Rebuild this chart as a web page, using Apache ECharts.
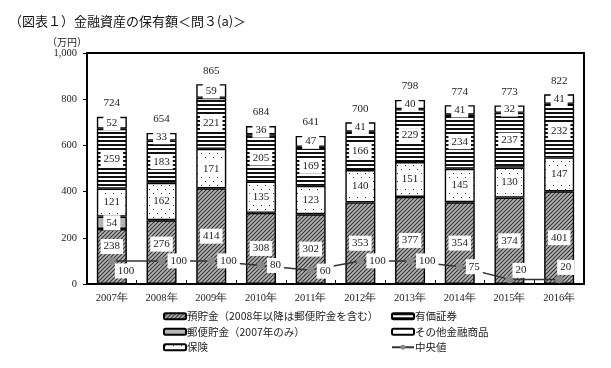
<!DOCTYPE html>
<html><head><meta charset="utf-8">
<script src="https://cdn.jsdelivr.net/npm/echarts@6/dist/echarts.min.js"></script>
<style>html,body{margin:0;padding:0;background:#fff}#c{width:611px;height:368px}</style>
</head><body><div id="c"></div>
<script>
const categories = ['2007年','2008年','2009年','2010年','2011年','2012年','2013年','2014年','2015年','2016年'];
const deposits   = [238, 276, 414, 308, 302, 353, 377, 354, 374, 401];
const postal     = [54, 0, 0, 0, 0, 0, 0, 0, 0, 0];
const insurance  = [121, 162, 171, 135, 123, 140, 151, 145, 130, 147];
const securities = [259, 183, 221, 205, 169, 166, 229, 234, 237, 232];
const others     = [52, 33, 59, 36, 47, 41, 40, 41, 32, 41];
const totals     = [724, 654, 865, 684, 641, 700, 798, 774, 773, 822];
const median     = [100, 100, 100, 80, 60, 100, 100, 75, 20, 20];
const yTicks     = [0, 200, 400, 600, 800, 1000];

// label offsets (styling only)
const medianLabelOffsets = [[-3,10],[0,0],[0,0],[0,0],[0,1],[0,0],[0,0],[0,0],[-3,-9],[-8,-12]];
const depositLabelOffsets = [[0,-10],[0,-8],[0,0],[0,0],[0,0],[0,0],[0,0],[0,0],[0,0],[0,0]];

function pattern(kind){
  const c = document.createElement('canvas');
  const ctx = c.getContext('2d');
  if(kind==='hatch'){
    c.width=4;c.height=4;
    ctx.fillStyle='#b4b4b4';ctx.fillRect(0,0,4,4);
    ctx.strokeStyle='#333';ctx.lineWidth=1.1;
    ctx.beginPath();ctx.moveTo(0,4);ctx.lineTo(4,0);ctx.moveTo(-1,1);ctx.lineTo(1,-1);ctx.moveTo(3,5);ctx.lineTo(5,3);ctx.stroke();
  } else if(kind==='dots'){
    c.width=8;c.height=8;
    ctx.fillStyle='#fff';ctx.fillRect(0,0,8,8);
    ctx.fillStyle='#333';ctx.fillRect(1,1,1,1);ctx.fillRect(5,5,1,1);
  } else if(kind==='stripes'){
    c.width=4;c.height=4;
    ctx.fillStyle='#fff';ctx.fillRect(0,0,4,4);
    ctx.fillStyle='#111';ctx.fillRect(0,0,4,2);
  }
  return {image:c, repeat:'repeat'};
}

const numFont = '"Liberation Serif", "DejaVu Serif", serif';
const jpFont = '"Noto Sans CJK JP", sans-serif';

const segLabel = {
  show:true, position:'inside', color:'#222', fontSize:11, fontFamily:numFont,
  backgroundColor:'#fff', padding:[2,3],
  formatter: p => (p.value && p.value !== '-') ? String(p.value) : ''
};

function barSeries(name, data, color, offsets){
  return {
    name, type:'bar', stack:'t',
    data: data.map((v,i) => {
      const val = v === 0 ? '-' : v;
      return offsets ? {value: val, label:{offset: offsets[i]}} : val;
    }),
    barWidth:30,
    itemStyle:{color, borderColor:'#000', borderWidth:1.4},
    label: segLabel,
    emphasis:{disabled:true}
  };
}

const chart = echarts.init(document.getElementById('c'), null, {renderer:'canvas'});
chart.setOption({
  animation:false,
  backgroundColor:'#fff',
  title:{text:'（図表１）金融資産の保有額＜問３(a)＞', left:4, top:10,
    textStyle:{fontSize:13, fontWeight:'normal', color:'#111', fontFamily:jpFont}},
  grid:{left:87, right:27, top:53, bottom:84, show:true, borderColor:'#000', borderWidth:2, backgroundColor:'transparent'},
  legend:[
    {orient:'vertical', left:158, top:306, itemWidth:22, itemHeight:6, itemGap:5,
     data:['預貯金（2008年以降は郵便貯金を含む）','郵便貯金（2007年のみ）','保険'],
     textStyle:{fontSize:10.5, color:'#222', fontFamily:jpFont, padding:[0,0,0,-4]}},
    {orient:'vertical', left:386, top:306, itemWidth:22, itemHeight:6, itemGap:5,
     data:['有価証券','その他金融商品','中央値'],
     textStyle:{fontSize:10.5, color:'#222', fontFamily:jpFont, padding:[0,0,0,-4]}}
  ],
  xAxis:{type:'category', data:categories,
    axisLine:{lineStyle:{color:'#000', width:2}},
    axisTick:{show:true, inside:true, length:4, lineStyle:{color:'#000'}},
    axisLabel:{fontSize:10.5, color:'#222', fontFamily:numFont, margin:9}},
  yAxis:{type:'value', min:yTicks[0], max:yTicks[yTicks.length-1], interval:200,
    name:'（万円）', nameLocation:'end', nameGap:6,
    nameTextStyle:{fontSize:10, color:'#222', fontFamily:jpFont, align:'right', padding:[0,0,0,0]},
    axisLine:{show:true, lineStyle:{color:'#000', width:2}},
    axisTick:{show:true, length:4, lineStyle:{color:'#000'}},
    splitLine:{show:false},
    axisLabel:{fontSize:10.5, color:'#222', fontFamily:numFont, margin:10,
      formatter: v => v.toLocaleString('en-US')}},
  series:[
    barSeries('預貯金（2008年以降は郵便貯金を含む）', deposits, pattern('hatch'), depositLabelOffsets),
    barSeries('郵便貯金（2007年のみ）', postal, '#b4b4b4'),
    barSeries('保険', insurance, pattern('dots')),
    barSeries('有価証券', securities, pattern('stripes')),
    barSeries('その他金融商品', others, '#fff'),
    {name:'total', type:'bar', stack:'t', barWidth:30, data: totals.map(()=>0),
     itemStyle:{color:'transparent', borderWidth:0},
     label:{show:true, position:'top', distance:8, color:'#222', fontSize:11, fontFamily:numFont,
       formatter: p => String(totals[p.dataIndex])}},
    {name:'中央値', type:'line', data: median.map((v,i)=>({value:v,
        label:{offset:medianLabelOffsets[i]}})),
     symbol:'circle', symbolSize:7, z:5,
     lineStyle:{color:'#333', width:1.5},
     itemStyle:{color:'#888', borderColor:'#888'},
     label:{show:true, position:'right', distance:2, color:'#222', fontSize:11, fontFamily:numFont,
       backgroundColor:'#fff', padding:[2,3]}}
  ]
});
</script></body></html>
